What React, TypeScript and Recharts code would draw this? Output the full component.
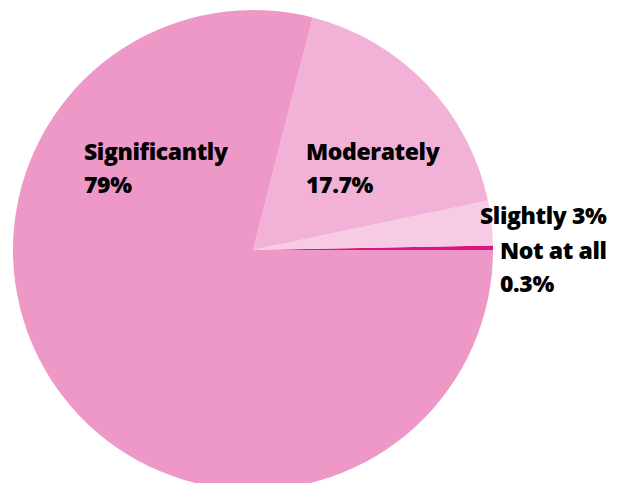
import { PieChart, Pie, Cell } from 'recharts';

const categories = ['Not at all', 'Slightly', 'Moderately', 'Significantly'];
const shares = [0.3, 3, 17.7, 79];
const colors = ['#DC1580', '#F6CBE3', '#F2B2D8', '#EE98C8'];

// label lines, and where each label sits relative to the pie centre
const labelLines = [['Not at all', '0.3%'], ['Slightly 3%'], ['Moderately', '17.7%'], ['Significantly', '79%']];
const labelOffsets = [
  { dx: 247, dy: 9 },
  { dx: 227, dy: -26 },
  { dx: 53, dy: -90 },
  { dx: -169, dy: -90 },
];

const data = categories.map((name, i) => ({ name, value: shares[i] }));

const renderLabel = (props: any) => {
  const { cx, cy, index } = props;
  const off = labelOffsets[index];
  return (
    <text
      key={`lbl-${index}`}
      x={cx + off.dx}
      y={cy + off.dy}
      fill="#000"
      fontFamily="'Open Sans', sans-serif"
      fontWeight={800}
      fontSize={23}
      letterSpacing={-0.4}
    >
      {labelLines[index].map((line, j) => (
        <tspan key={j} x={cx + off.dx} dy={j === 0 ? 0 : 33}>
          {line}
        </tspan>
      ))}
    </text>
  );
};

export default function App() {
  return (
    <div style={{ position: 'absolute', left: 0, top: 0, width: 625, height: 483, background: '#fff' }}>
      <PieChart width={625} height={483} margin={{ top: 0, right: 0, bottom: 0, left: 0 }}>
        <Pie
          data={data}
          dataKey="value"
          nameKey="name"
          cx={253}
          cy={250}
          outerRadius={240}
          startAngle={0}
          endAngle={360}
          stroke="none"
          label={renderLabel}
          labelLine={false}
          isAnimationActive={false}
        >
          {data.map((d, i) => (
            <Cell key={d.name} fill={colors[i]} />
          ))}
        </Pie>
      </PieChart>
    </div>
  );
}
